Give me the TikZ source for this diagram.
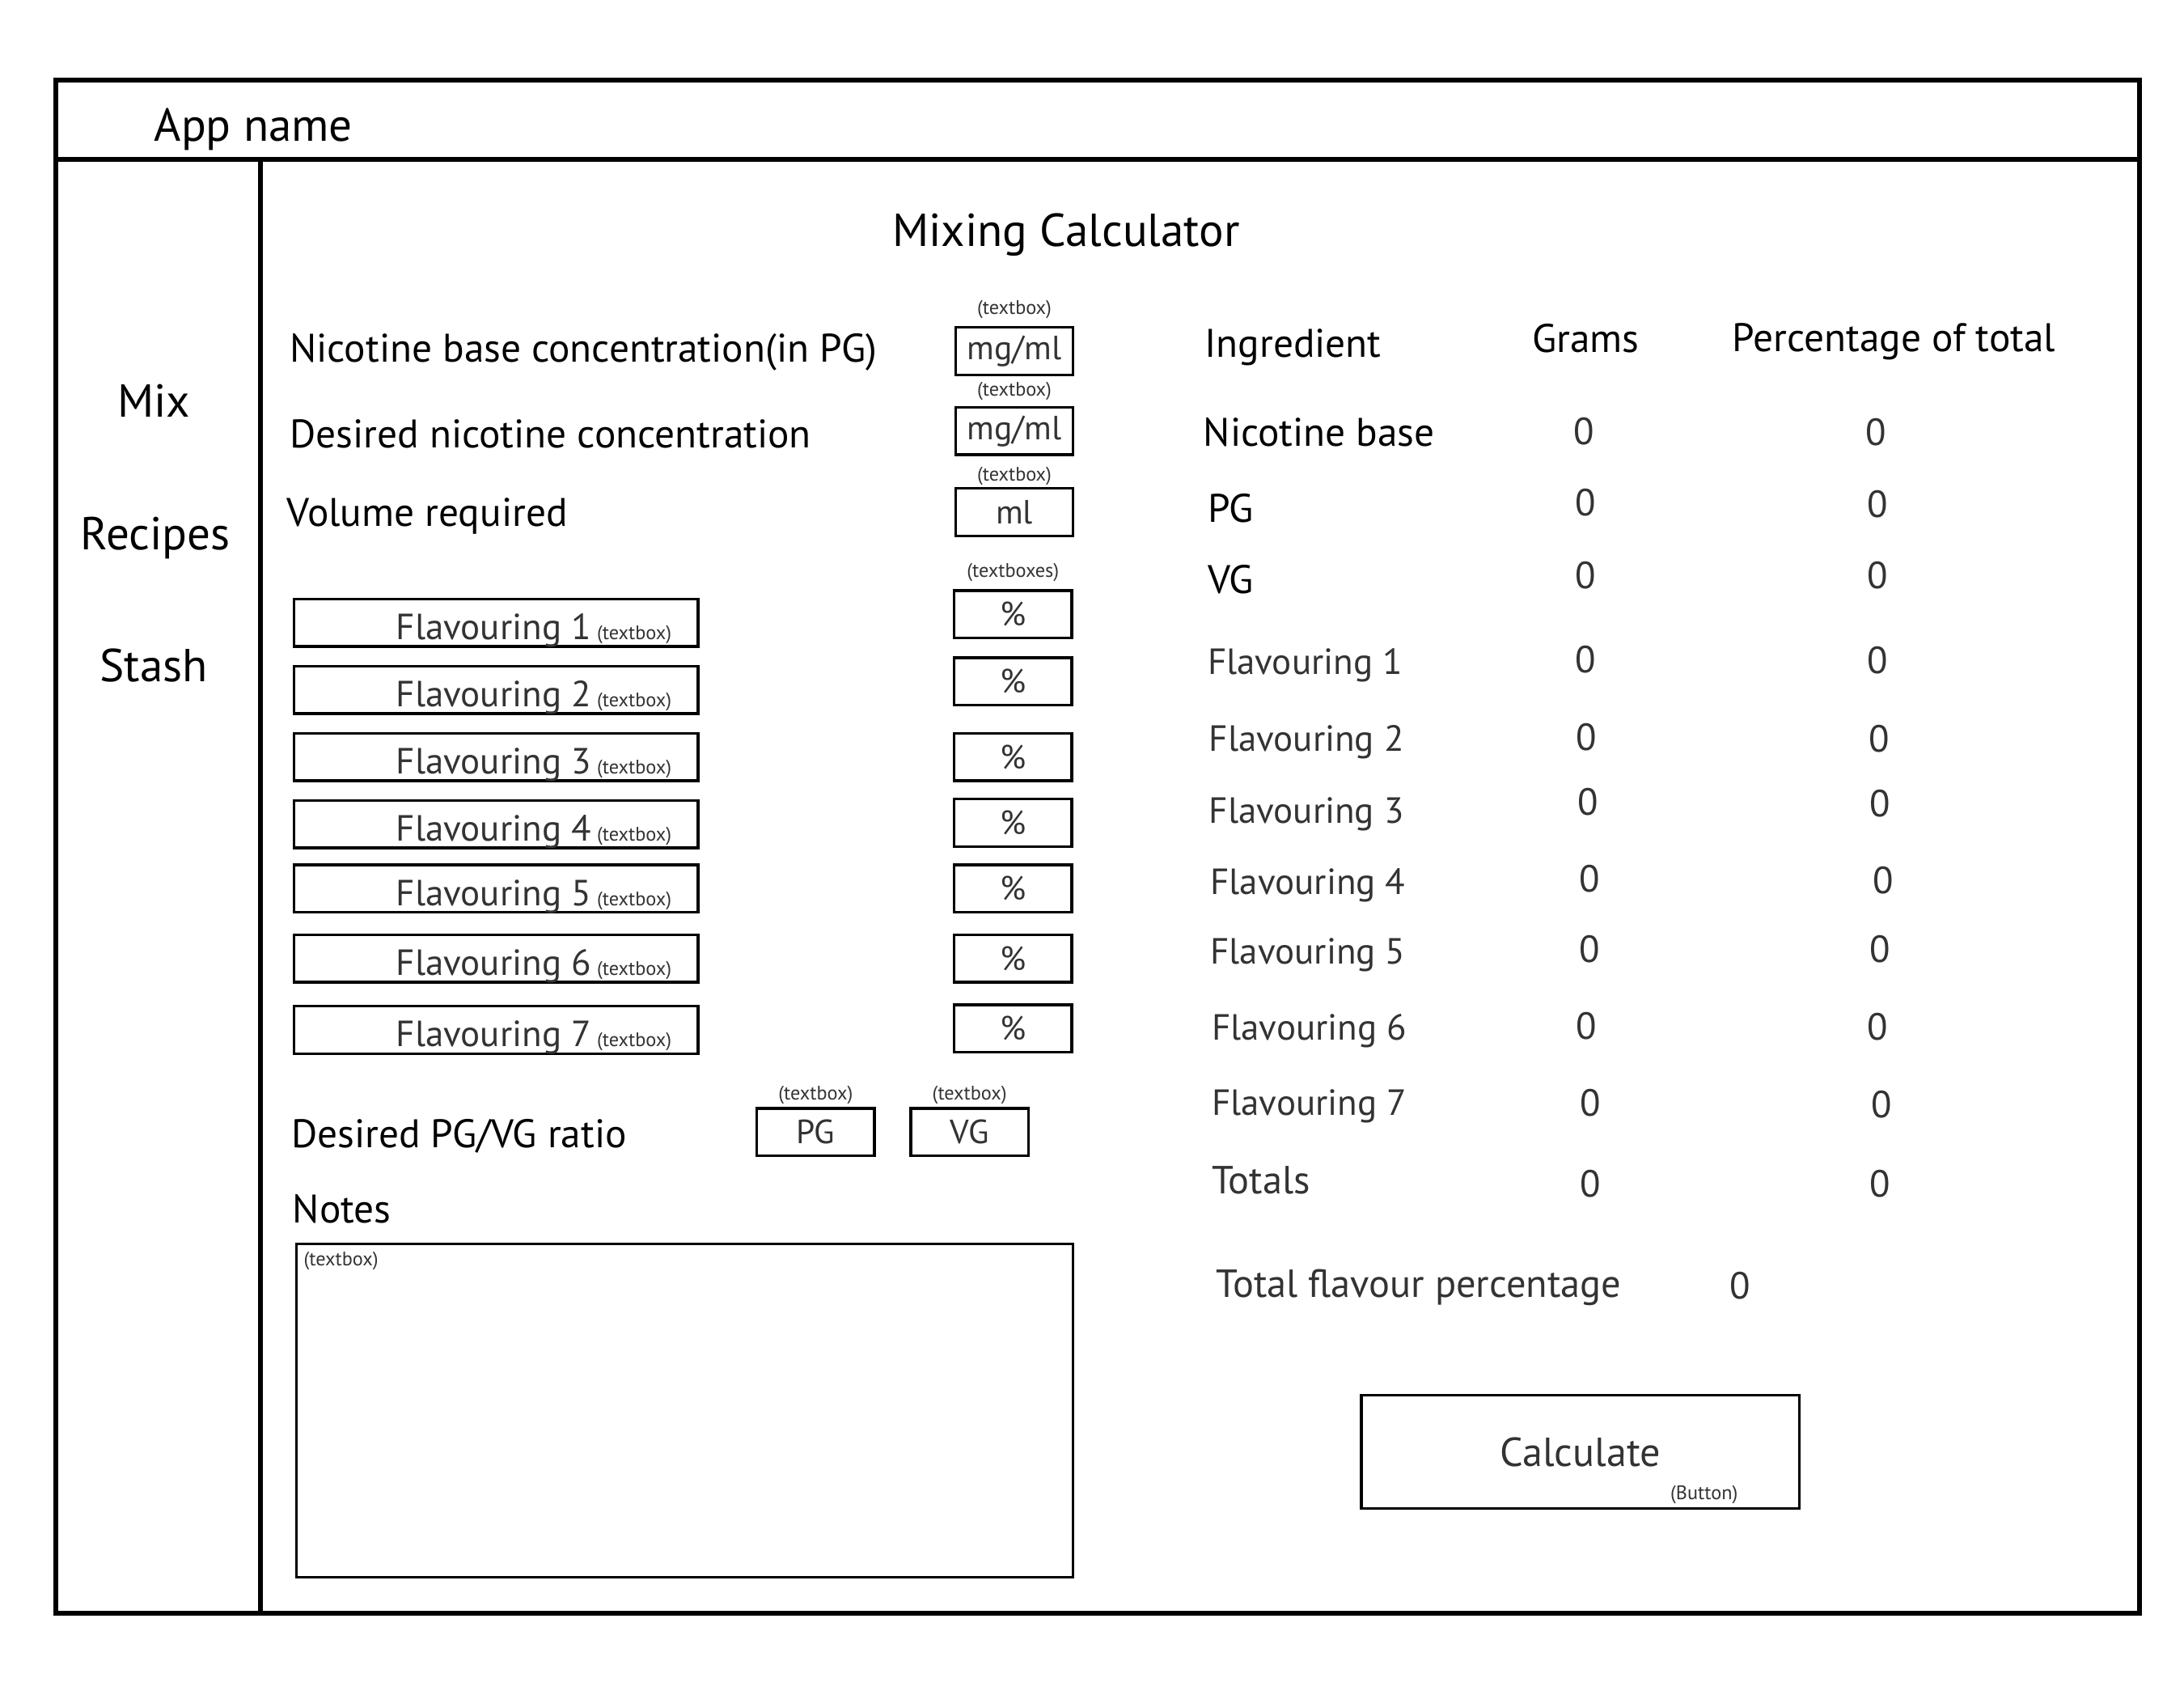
\documentclass[tikz,border=0pt]{standalone}
\usepackage{fontspec}
\setmainfont{PT Sans}
\usetikzlibrary{positioning}
\definecolor{inkgray}{HTML}{333333}
\begin{document}
\begin{tikzpicture}[x=1pt, y=-1pt,
    frame/.style={line width=3.5pt},
    field/.style={draw, line width=2pt, inner sep=0pt, text=inkgray, font=\fontsize{24}{28}\selectfont},
    hint/.style={inner sep=0pt, text=inkgray, font=\fontsize{14}{16}\selectfont},
    big/.style={inner sep=0pt, font=\fontsize{33}{38}\selectfont},
    lbl/.style={anchor=base west, inner sep=0pt, font=\fontsize{28.5}{34}\selectfont},
    flbl/.style={anchor=base west, inner sep=0pt, text=inkgray, font=\fontsize{26}{30}\selectfont},
    zero/.style={inner sep=0pt, text=inkgray, font=\fontsize{27}{30}\selectfont}]
\useasboundingbox (0,0) rectangle (1561,1214.1);

% window frame
\draw[frame] (40,57) rectangle (1529,1153);
\draw[frame] (40,114) -- (1529,114);
\draw[frame] (186,114) -- (186,1153);

% header and menu
\node[big, anchor=base west] (appname) at (110,101) {App name};
\node[big, anchor=base] (mix) at (110,298) {Mix};
\node[big, anchor=base] (recipes) at (111,393) {Recipes};
\node[big, anchor=base] (stash) at (110,487) {Stash};
\node[big, anchor=base] (title) at (762,176) {Mixing Calculator};

% inputs
\node[lbl] (nicbase) at (207,259) {Nicotine base concentration(in PG)};
\node[lbl] (nicwant) at (207,320) {Desired nicotine concentration};
\node[lbl] (volume) at (205,376) {Volume required};
\node[field, minimum width=84, minimum height=34] (nicbasebox) at (725,251) {mg/ml};
\node[field, minimum width=84, minimum height=34] (nicwantbox) at (725,308) {mg/ml};
\node[field, minimum width=84, minimum height=34] (volumebox) at (725,366) {ml};
\node[hint, above=5pt of nicbasebox] (nicbasehint) {(textbox)};
\node[hint, above=4pt of nicwantbox] (nicwanthint) {(textbox)};
\node[hint, above=1pt of volumebox] (volumehint) {(textbox)};

\foreach \i/\y/\p in {1/427/421, 2/475/469, 3/523/523, 4/571/570, 5/617/617, 6/667/667, 7/718/717} {
  \node[field, minimum width=289, minimum height=34, anchor=north west] (flav\i) at (209,\y) {};
  \node[flbl] (flavtxt\i) at ([xshift=74pt, yshift=6pt]flav\i.south west)
    {Flavouring \i\,{\fontsize{14}{16}\selectfont(textbox)}};
  \node[field, minimum width=84, minimum height=34, anchor=north west] (pct\i) at (681,\p) {\%};
}
\node[hint, above=5pt of pct1] (pcthint) {(textboxes)};

\node[lbl] (ratio) at (208,820) {Desired PG/VG ratio};
\node[field, minimum width=84, minimum height=34] (pgbox) at (583,809) {PG};
\node[field, minimum width=84, minimum height=34] (vgbox) at (693,809) {VG};
\node[hint, above=2pt of pgbox] (pghint) {(textbox)};
\node[hint, above=2pt of vgbox] (vghint) {(textbox)};

\node[lbl] (notes) at (209,874) {Notes};
\node[field, minimum width=555, minimum height=238, anchor=north west] (notesbox) at (211,888) {};
\node[hint, anchor=west] (noteshint) at ([xshift=6pt, yshift=-13pt]notesbox.north west) {(textbox)};

% results table
\node[lbl] (ingr) at (861,255) {Ingredient};
\node[lbl] (grams) at (1095,252) {Grams};
\node[lbl] (share) at (1238,251) {Percentage of total};
\foreach \n/\t/\x/\y in {1/Nicotine base/860/319, 2/PG/863/373, 3/VG/863/424}
  \node[lbl] (row\n) at (\x,\y) {\t};
\foreach \n/\x/\y in {4/863/482, 5/864/537, 6/864/588, 7/865/639, 8/865/689, 9/866/743, 10/866/797} {
  \pgfmathtruncatemacro{\f}{\n-3}
  \node[flbl] (row\n) at (\x,\y) {Flavouring \f};
}
\node[flbl, font=\fontsize{28}{32}\selectfont] (row11) at (866,853) {Totals};
\foreach \n/\gx/\gy/\px/\py in {1/1132/308/1341/309, 2/1133/359/1342/360, 3/1133/411/1342/411,
    4/1133/471/1342/472, 5/1134/527/1343/528, 6/1135/573/1344/574, 7/1136/628/1346/629,
    8/1136/678/1344/678, 9/1134/733/1342/734, 10/1137/788/1345/789, 11/1137/846/1344/846} {
  \node[zero] (gram\n) at (\gx,\gy) {0};
  \node[zero] (share\n) at (\px,\py) {0};
}

\node[flbl, font=\fontsize{28}{32}\selectfont] (flavtotal) at (869,927) {Total flavour percentage};
\node[zero] (flavtotalval) at (1244,919) {0};

% button
\node[field, font=\fontsize{29}{34}\selectfont, minimum width=313, minimum height=81] (calc) at (1129.5,1037.5) {Calculate};
\node[hint] (calchint) at (1218,1068) {(Button)};
\end{tikzpicture}
\end{document}
